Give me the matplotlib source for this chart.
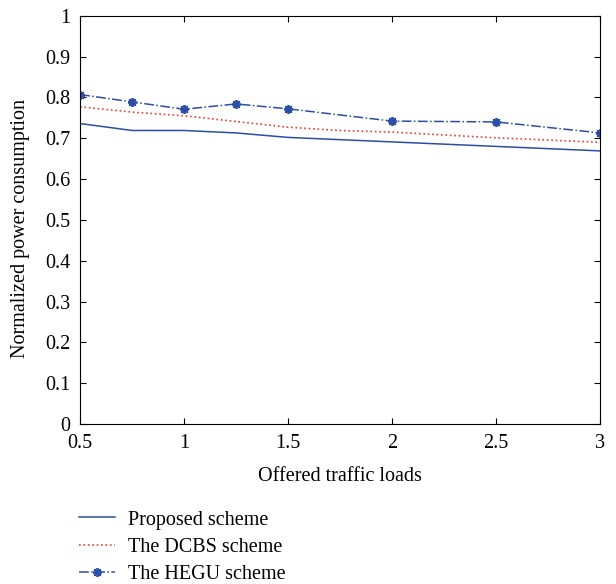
import matplotlib
matplotlib.use('Agg')
from matplotlib import pyplot as plt
import numpy as np

plt.rcParams['font.family'] = ['Liberation Serif', 'DejaVu Serif']

# data
x_prop = [0.5, 0.75, 1.0, 1.25, 1.5, 2.0, 2.5, 3.0]
y_prop = [0.736, 0.719, 0.719, 0.713, 0.702, 0.691, 0.680, 0.669]

x_dcbs = [0.5, 0.75, 1.0, 1.25, 1.5, 1.75, 2.0, 2.5, 3.0]
y_dcbs = [0.777, 0.764, 0.755, 0.741, 0.727, 0.719, 0.715, 0.701, 0.690]

x_hegu = [0.5, 0.75, 1.0, 1.25, 1.5, 2.0, 2.5, 3.0]
y_hegu = [0.807, 0.789, 0.771, 0.784, 0.772, 0.742, 0.740, 0.713]

xticks = [0.5, 1, 1.5, 2, 2.5, 3]
xticklabels = ['0.5', '1', '1.5', '2', '2.5', '3']
yticks = np.arange(0, 1.01, 0.1)
yticklabels = ['0', '0.1', '0.2', '0.3', '0.4', '0.5', '0.6', '0.7', '0.8', '0.9', '1']

blue = '#2a4ea6'
red = '#ee3b34'
fs = 14.5

fig = plt.figure(figsize=(6.16, 5.84), dpi=100)
ax = fig.add_axes([0.13, 0.274, 0.844, 0.699])

ax.plot(x_prop, y_prop, '-', color=blue, lw=1.1, label='Proposed scheme')
ax.plot(x_dcbs, y_dcbs, ':', color=red, lw=1.2, label='The DCBS scheme')
ax.plot(x_hegu, y_hegu, '-.', color=blue, lw=1.1, marker=(8, 2, 0),
        markersize=6.5, mew=1.3, label='The HEGU scheme')

ax.set_xlim(0.5, 3)
ax.set_ylim(0, 1)
ax.set_xticks(xticks)
ax.set_xticklabels(xticklabels)
ax.set_yticks(yticks)
ax.set_yticklabels(yticklabels)
ax.tick_params(direction='in', top=True, right=True, labelsize=fs, length=4, pad=7)
ax.set_xlabel('Offered traffic loads', fontsize=fs)
ax.set_ylabel('Normalized power consumption', fontsize=fs)
ax.xaxis.set_label_coords(0.5, -0.105)
ax.yaxis.set_label_coords(-0.097, 0.48)

fig.legend(loc='upper left', bbox_to_anchor=(0.099, 0.157), frameon=False,
           fontsize=fs, handlelength=1.8, handletextpad=0.65, labelspacing=0.4)

fig.savefig('out.png', dpi=100)
